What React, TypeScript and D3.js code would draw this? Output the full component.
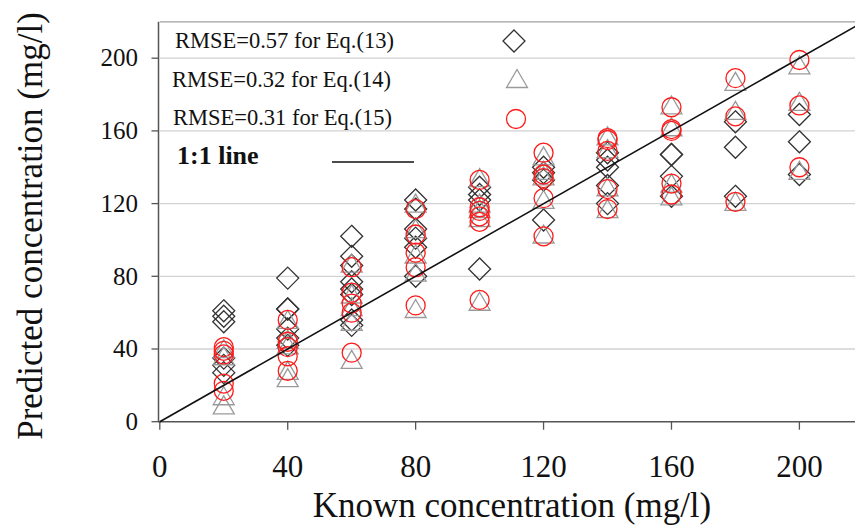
import React from "react";
import * as d3 from "d3";

// Known concentrations (mg/l) and predicted values
const eq13: [number, number][] = [
  [20, 61], [20, 58], [20, 55], [20, 35], [20, 31], [20, 27],
  [40, 79], [40, 62], [40, 62], [40, 51], [40, 46], [40, 42],
  [60, 102], [60, 91], [60, 86], [60, 77], [60, 73], [60, 70], [60, 56], [60, 53],
  [80, 122], [80, 117], [80, 106], [80, 101], [80, 96], [80, 80],
  [100, 129], [100, 125], [100, 122], [100, 84],
  [120, 140], [120, 137], [120, 133], [120, 111],
  [140, 148], [140, 144], [140, 140], [140, 130], [140, 120],
  [160, 147], [160, 147], [160, 135], [160, 124],
  [180, 165], [180, 151], [180, 124],
  [200, 169], [200, 154], [200, 136],
];
const eq14: [number, number][] = [
  [20, 40], [20, 36], [20, 14], [20, 9],
  [40, 56], [40, 45], [40, 42], [40, 28], [40, 24],
  [60, 87], [60, 70], [60, 63], [60, 55], [60, 34],
  [80, 120], [80, 106], [80, 92], [80, 82], [80, 62],
  [100, 134], [100, 120], [100, 117], [100, 112], [100, 66],
  [120, 146], [120, 138], [120, 135], [120, 122], [120, 103],
  [140, 157], [140, 150], [140, 129], [140, 117],
  [160, 174], [160, 162], [160, 131], [160, 124],
  [180, 187], [180, 171], [180, 121],
  [200, 196], [200, 176], [200, 138],
];
const eq15: [number, number][] = [
  [20, 41], [20, 39], [20, 37], [20, 21], [20, 17],
  [40, 56], [40, 44], [40, 41], [40, 36], [40, 28],
  [60, 85], [60, 71], [60, 65], [60, 60], [60, 38],
  [80, 117], [80, 103], [80, 93], [80, 85], [80, 64],
  [100, 133], [100, 118], [100, 116], [100, 113], [100, 110], [100, 67],
  [120, 148], [120, 136], [120, 134], [120, 123], [120, 102],
  [140, 156], [140, 155], [140, 149], [140, 128], [140, 117],
  [160, 173], [160, 161], [160, 160], [160, 131], [160, 125],
  [180, 189], [180, 168], [180, 121],
  [200, 199], [200, 174], [200, 140],
];
const legendLabels = ["RMSE=0.57 for Eq.(13)", "RMSE=0.32 for Eq.(14)", "RMSE=0.31 for Eq.(15)"];
const tickValues = [0, 40, 80, 120, 160, 200];
const gridValues = [40, 80, 120, 160, 200];
const axisMax = 220;

const serif = "'Liberation Serif', 'Times New Roman', serif";

const x = d3.scaleLinear().domain([0, axisMax]).range([159.8, 159.8 + axisMax * 3.198]);
const y = d3.scaleLinear().domain([0, axisMax]).range([421.7, 421.7 - axisMax * 1.8175]);

const diamondPath = "M0,-11L11,0L0,11L-11,0Z";
const trianglePath = "M0,-9.5L10.5,8.5L-10.5,8.5Z";

const DIAMOND = "#333";
const TRI = "#9a9a9a";
const CIRC = "#ff1a1a";

export default function App() {
  const line = d3.line<[number, number]>().x((d) => x(d[0])).y((d) => y(d[1]));
  const x0 = x(0);
  const xEnd = x(axisMax);
  return (
    <svg width={855} height={527} style={{ position: "absolute", left: 0, top: 0, background: "#fff" }}>
      <rect width={855} height={527} fill="#fff" />
      {/* gridlines */}
      {gridValues.map((v) => (
        <line key={v} x1={x0} x2={xEnd} y1={y(v)} y2={y(v)} stroke="#d2d2d2" strokeWidth={1.3} />
      ))}
      <line x1={x0} x2={xEnd} y1={y(axisMax)} y2={y(axisMax)} stroke="#a0a0a0" strokeWidth={1.3} />
      {/* axes */}
      <line x1={158.5} x2={158.5} y1={y(axisMax)} y2={y(0)} stroke="#555" strokeWidth={1.5} />
      <line x1={158} x2={xEnd} y1={y(0)} y2={y(0)} stroke="#555" strokeWidth={1.5} />
      {tickValues.map((v) => (
        <g key={"yt" + v}>
          <line x1={151.5} x2={158.5} y1={y(v)} y2={y(v)} stroke="#555" strokeWidth={1.3} />
          <text x={138} y={y(v)} dy="0.33em" textAnchor="end" fontFamily={serif} fontSize={25} fill="#111">
            {v}
          </text>
        </g>
      ))}
      {tickValues.map((v) => (
        <g key={"xt" + v}>
          <line x1={x(v)} x2={x(v)} y1={y(0)} y2={y(0) + 8} stroke="#555" strokeWidth={1.3} />
          <text x={x(v)} y={477} textAnchor="middle" fontFamily={serif} fontSize={31} fill="#111">
            {v}
          </text>
        </g>
      ))}
      {/* titles */}
      <text x={512} y={517} textAnchor="middle" fontFamily={serif} fontSize={35} fill="#111">
        Known concentration (mg/l)
      </text>
      <text
        transform={`translate(42,226) rotate(-90)`}
        textAnchor="middle"
        fontFamily={serif}
        fontSize={35}
        fill="#111"
      >
        Predicted concentration (mg/l)
      </text>
      {/* data */}
      {eq13.map((d, i) => (
        <path key={"d" + i} d={diamondPath} transform={`translate(${x(d[0])},${y(d[1])})`} fill="none" stroke={DIAMOND} strokeWidth={1.3} />
      ))}
      {eq14.map((d, i) => (
        <path key={"t" + i} d={trianglePath} transform={`translate(${x(d[0])},${y(d[1])})`} fill="none" stroke={TRI} strokeWidth={1.3} />
      ))}
      {eq15.map((d, i) => (
        <circle key={"c" + i} cx={x(d[0])} cy={y(d[1])} r={9.5} fill="none" stroke={CIRC} strokeWidth={1.3} />
      ))}
      {/* 1:1 line */}
      <path d={line([[0, 0], [axisMax, axisMax]]) || ""} stroke="#111" strokeWidth={1.6} fill="none" />
      {/* legend */}
      <text x={175} y={48} fontFamily={serif} fontSize={22.5} fill="#111">{legendLabels[0]}</text>
      <text x={172} y={87} fontFamily={serif} fontSize={22.5} fill="#111">{legendLabels[1]}</text>
      <text x={173} y={125} fontFamily={serif} fontSize={22.5} fill="#111">{legendLabels[2]}</text>
      <path d={diamondPath} transform="translate(514,41)" fill="none" stroke={DIAMOND} strokeWidth={1.3} />
      <path d={trianglePath} transform="translate(517,79)" fill="none" stroke={TRI} strokeWidth={1.3} />
      <circle cx={516} cy={119} r={9.5} fill="none" stroke={CIRC} strokeWidth={1.3} />
      <text x={177} y={164} fontFamily={serif} fontSize={26} fontWeight="bold" fill="#111">1:1 line</text>
      <line x1={332} x2={414} y1={162} y2={162} stroke="#111" strokeWidth={1.5} />
    </svg>
  );
}
